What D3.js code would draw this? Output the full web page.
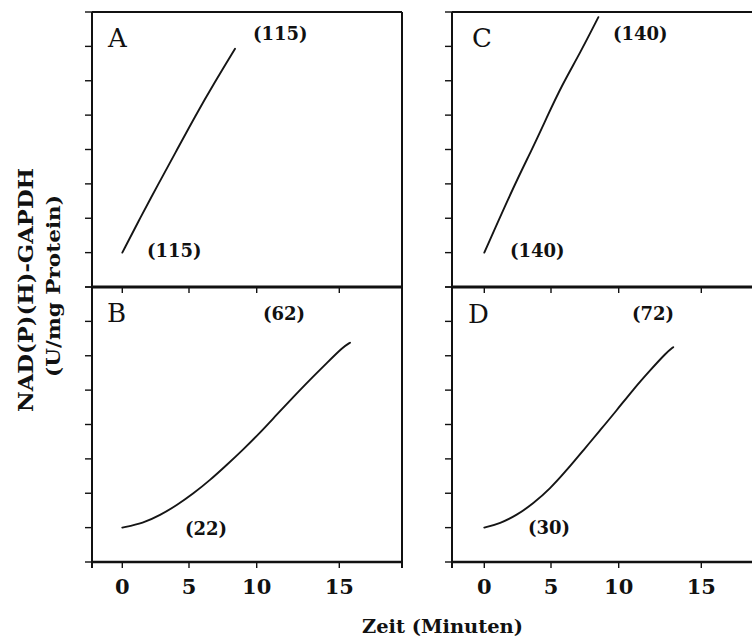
<!DOCTYPE html>
<html><head><meta charset="utf-8">
<script src="https://cdn.jsdelivr.net/npm/d3@7"></script>
<style>html,body{margin:0;padding:0;background:#fff;}</style>
</head><body>
<svg id="chart" width="752" height="638"></svg>
<script>
// ---- data ----
const panelLetters = ["A", "B", "C", "D"];
const startLabels = ["(115)", "(22)", "(140)", "(30)"];
const endLabels = ["(115)", "(62)", "(140)", "(72)"];
const xTicks = [0, 5, 10, 15];
const yTicks = [-1, 0, 1, 2, 3, 4, 5, 6, 7];

const timeA = [0, 1.37, 2.62, 3.99, 5.44, 6.92, 8.4];
const actA  = [0, 1.03, 1.94, 2.91, 3.96, 4.97, 5.93];
const timeB = [0, 1.57, 2.83, 4.08, 5.32, 6.55, 7.78, 9.0, 10.2, 11.2, 12.2, 13.2, 14.25, 15.24, 15.65];
const actB  = [0, 0.13, 0.36, 0.65, 0.99, 1.38, 1.82, 2.27, 2.76, 3.28, 3.79, 4.29, 4.79, 5.26, 5.38];
const timeC = [0, 2.30, 3.55, 4.68, 5.79, 7.14, 8.5];
const actC  = [0, 2.01, 2.98, 3.93, 4.86, 5.80, 6.85];
const timeD = [0, 1.18, 2.43, 3.67, 4.93, 6.16, 7.39, 8.62, 9.85, 10.88, 11.89, 12.9, 13.3];
const actD  = [0, 0.12, 0.36, 0.70, 1.13, 1.67, 2.25, 2.83, 3.41, 4.02, 4.57, 5.10, 5.25];

const series = [[timeA, actA], [timeB, actB], [timeC, actC], [timeD, actD]];

// ---- layout ----
const svg = d3.select("#chart");
const FONT = "'DejaVu Serif', 'Liberation Serif', serif";
const cols = [
  {x0: 92, x1: 402, range: [122.3, 189, 256.7, 339.3]},
  {x0: 452, x1: 770, range: [484.3, 551, 618.7, 701.3]}
];
const rows = [{y0: 12, y1: 287}, {y0: 287, y1: 562}];
const panels = [
  {c: 0, r: 0, bw: 3}, {c: 0, r: 1, bw: 2.5},
  {c: 1, r: 0, bw: 3}, {c: 1, r: 1, bw: 2.5}
];
const letterPos = [[16, 35], [15, 35], [20, 35], [16, 36]];
const endPos = [[161, 28], [171, 33], [161, 28], [180, 33]];
const startPos = [[55, 245], [93, 248], [58, 245], [76, 247]];

panels.forEach((p, i) => {
  const col = cols[p.c], row = rows[p.r];
  const x = d3.scaleLinear().domain(xTicks).range(col.range);
  const y = d3.scaleLinear().domain([-1, 7]).range([row.y1, row.y0]);
  const g = svg.append("g");

  g.append("line").attr("x1", col.x0).attr("x2", col.x1).attr("y1", row.y0).attr("y2", row.y0)
    .attr("stroke", "#111").attr("stroke-width", 2);
  g.append("line").attr("x1", col.x0).attr("x2", col.x1).attr("y1", row.y1).attr("y2", row.y1)
    .attr("stroke", "#111").attr("stroke-width", p.bw);
  g.append("line").attr("x1", col.x0).attr("x2", col.x0).attr("y1", row.y0).attr("y2", row.y1 + 6)
    .attr("stroke", "#111").attr("stroke-width", 2);
  g.append("line").attr("x1", col.x1).attr("x2", col.x1).attr("y1", row.y0).attr("y2", row.y1 + 6)
    .attr("stroke", "#111").attr("stroke-width", 2);

  g.selectAll(".yt").data(yTicks).enter().append("line")
    .attr("x1", col.x0 - 7).attr("x2", col.x0)
    .attr("y1", d => y(d)).attr("y2", d => y(d))
    .attr("stroke", "#111").attr("stroke-width", 1.4);
  g.selectAll(".xt").data(xTicks).enter().append("line")
    .attr("x1", d => x(d)).attr("x2", d => x(d))
    .attr("y1", row.y1).attr("y2", row.y1 + 6)
    .attr("stroke", "#111").attr("stroke-width", 1.4);
  if (p.r === 1) {
    g.selectAll(".xl").data(xTicks).enter().append("text")
      .attr("x", d => x(d)).attr("y", 594)
      .attr("text-anchor", "middle")
      .attr("font-family", FONT).attr("font-weight", "bold").attr("font-size", 21)
      .attr("fill", "#111")
      .text(d => d);
  }

  const [tx, ty] = series[i];
  const pts = tx.map((t, k) => [t, ty[k]]);
  const line = d3.line().x(d => x(d[0])).y(d => y(d[1])).curve(d3.curveBasis);
  g.append("path").attr("d", line(pts)).attr("fill", "none")
    .attr("stroke", "#151515").attr("stroke-width", 1.9).attr("stroke-linecap", "round");

  g.append("text").attr("x", col.x0 + letterPos[i][0]).attr("y", row.y0 + letterPos[i][1])
    .attr("font-family", FONT).attr("font-size", 26).attr("fill", "#111")
    .text(panelLetters[i]);
  g.append("text").attr("x", col.x0 + endPos[i][0]).attr("y", row.y0 + endPos[i][1])
    .attr("font-family", FONT).attr("font-weight", "bold").attr("font-size", 18).attr("fill", "#111")
    .text(endLabels[i]);
  g.append("text").attr("x", col.x0 + startPos[i][0]).attr("y", row.y0 + startPos[i][1])
    .attr("font-family", FONT).attr("font-weight", "bold").attr("font-size", 18).attr("fill", "#111")
    .text(startLabels[i]);
});

svg.append("text").attr("x", 362).attr("y", 633)
  .attr("font-family", FONT).attr("font-weight", "bold").attr("font-size", 19).attr("fill", "#111")
  .attr("textLength", 161).attr("lengthAdjust", "spacingAndGlyphs")
  .text("Zeit (Minuten)");
svg.append("text").attr("transform", "translate(33,290) rotate(-90)")
  .attr("text-anchor", "middle")
  .attr("font-family", FONT).attr("font-weight", "bold").attr("font-size", 20).attr("fill", "#111")
  .attr("textLength", 244).attr("lengthAdjust", "spacingAndGlyphs")
  .text("NAD(P)(H)-GAPDH");
svg.append("text").attr("transform", "translate(60,286) rotate(-90)")
  .attr("text-anchor", "middle")
  .attr("font-family", FONT).attr("font-weight", "bold").attr("font-size", 19).attr("fill", "#111")
  .attr("textLength", 182).attr("lengthAdjust", "spacingAndGlyphs")
  .text("(U/mg Protein)");
</script>
</body></html>
